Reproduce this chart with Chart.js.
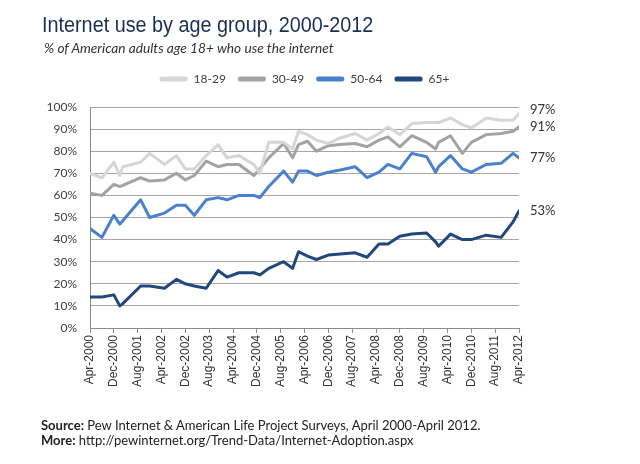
<!DOCTYPE html>
<html>
<head>
<meta charset="utf-8">
<title>Internet use by age group, 2000-2012</title>
<script src="https://cdn.jsdelivr.net/npm/chart.js@4.4.1/dist/chart.umd.min.js"></script>
<style>
  html, body { margin: 0; padding: 0; background: #fff; }
  #wrap { position: relative; width: 640px; height: 464px; overflow: hidden; }
  #chart { position: absolute; left: 0; top: 0; }
  .title {
    position: absolute; left: 42px; top: 14px;
    font: 22px/22px "Liberation Sans", Arial, sans-serif;
    color: #1b2f55; white-space: nowrap;
    transform: scaleX(0.9); transform-origin: 0 0;
  }
  .subtitle {
    position: absolute; left: 44px; top: 41px;
    font: italic 13.7px/13px Lato, sans-serif;
    color: #333; white-space: nowrap;
  }
  .source {
    position: absolute; left: 41px; top: 418px;
    font: 13px/15px Lato, sans-serif;
    color: #222; white-space: nowrap;
  }
</style>
</head>
<body>
<div id="wrap">
  <canvas id="chart" width="640" height="464"></canvas>
  <div class="title">Internet use by age group, 2000-2012</div>
  <div class="subtitle">% of American adults age 18+ who use the internet</div>
  <div class="source">
    <b>Source:</b> Pew Internet &amp; American Life Project Surveys, April 2000-April 2012.<br>
    <b>More:</b> http://pewinternet.org/Trend-Data/Internet-Adoption.aspx
  </div>
</div>
<script>
// survey dates (year-month)
const surveyDates = [
  '2000-04', '2000-08', '2000-12', '2001-02', '2001-03', '2001-09', '2001-12',
  '2002-05', '2002-09', '2002-12', '2003-03', '2003-07', '2003-11', '2004-02',
  '2004-06', '2004-11', '2005-01', '2005-04', '2005-09', '2005-12', '2006-02',
  '2006-05', '2006-08', '2006-12', '2007-04', '2007-09', '2008-01', '2008-05',
  '2008-08', '2008-12', '2009-04', '2009-09', '2009-12', '2010-01', '2010-05',
  '2010-09', '2010-12', '2011-05', '2011-10', '2012-02', '2012-04'
];

const ageGroups = ['18-29', '30-49', '50-64', '65+'];

const age18to29 = [70, 68, 75, 69, 73, 75, 79, 74, 78, 72, 72, 78, 83, 77, 78, 74, 70, 84, 84, 81, 89,
  87.5, 85, 83.5, 86, 88, 85, 88, 91, 87.5, 92.5, 93, 93, 93, 95, 92, 90.5, 95, 94, 94, 97];
const age30to49 = [61, 60, 65, 64, 64.5, 68, 66.5, 67, 70, 67, 69, 75.5, 73, 74, 74, 69, 72, 77, 83.5, 77, 83,
  84.5, 80, 82.5, 83, 83.5, 82, 85, 86.5, 82, 87, 84, 81, 84, 87, 79, 84, 87.5, 88, 89, 91];
const age50to64 = [45, 41, 51, 47, 48.5, 58, 50, 52, 55.5, 55.5, 51, 58, 59, 58, 60, 60, 59, 64, 71, 66, 71,
  71, 69, 70.5, 71.5, 73, 68, 70.5, 74, 72, 79, 77.5, 70.5, 73, 78, 72, 70.5, 74, 74.5, 79, 77];
const age65plus = [14, 14, 15, 10, 11, 19, 19, 18, 22, 20, 19, 18, 26, 23, 25, 25, 24, 27, 30, 27, 34.5,
  32.5, 31, 33, 33.5, 34, 32, 38, 38, 41.5, 42.5, 43, 39, 37, 42.5, 40, 40, 42, 41, 48, 53];

// x axis tick labels, one every 8 months from Apr-2000
const tickLabels = [
  'Apr-2000', 'Dec-2000', 'Aug-2001', 'Apr-2002', 'Dec-2002', 'Aug-2003', 'Apr-2004',
  'Dec-2004', 'Aug-2005', 'Apr-2006', 'Dec-2006', 'Aug-2007', 'Apr-2008', 'Dec-2008',
  'Aug-2009', 'Apr-2010', 'Dec-2010', 'Aug-2011', 'Apr-2012'
];

const seriesColors = ['#d6d6d6', '#a3a3a3', '#4a80cc', '#22477c'];

// months since Apr-2000
function monthIndex(d) {
  const [y, m] = d.split('-').map(Number);
  return (y - 2000) * 12 + (m - 4);
}

function toPoints(values) {
  return values.map((v, i) => ({ x: monthIndex(surveyDates[i]), y: v }));
}

const allSeries = [age18to29, age30to49, age50to64, age65plus];

const datasets = allSeries.map((vals, i) => ({
  label: ageGroups[i],
  data: toPoints(vals),
  borderColor: seriesColors[i],
  backgroundColor: seriesColors[i],
  borderWidth: 3,
  pointRadius: 0,
  tension: 0,
  fill: false,
  borderJoinStyle: 'round',
  borderCapStyle: 'round'
}));

// end-of-line value labels on the right side
const endLabels = {
  id: 'endLabels',
  afterDatasetsDraw(chart) {
    const { ctx, chartArea, scales } = chart;
    const items = chart.data.datasets.map(ds => {
      const last = ds.data[ds.data.length - 1].y;
      return { text: Math.round(last) + '%', y: scales.y.getPixelForValue(last) };
    }).sort((a, b) => a.y - b.y);
    // push apart labels that would overlap
    for (let i = items.length - 2; i >= 0; i--) {
      if (items[i + 1].y - items[i].y < 17) items[i].y = items[i + 1].y - 17;
    }
    ctx.save();
    ctx.font = '13px Lato, sans-serif';
    ctx.fillStyle = '#333';
    ctx.textBaseline = 'middle';
    ctx.textAlign = 'left';
    items.forEach(it => ctx.fillText(it.text, chartArea.right + 11, it.y));
    ctx.restore();
  }
};

// extra room under the legend
const legendGap = {
  id: 'legendGap',
  beforeInit(chart) {
    const fit = chart.legend.fit;
    chart.legend.fit = function () {
      fit.bind(chart.legend)();
      this.height += 12;
    };
  }
};

Chart.defaults.font.family = 'Lato, sans-serif';

new Chart(document.getElementById('chart'), {
  type: 'line',
  data: { datasets },
  options: {
    responsive: false,
    animation: false,
    layout: { padding: { top: 61, right: 121, left: 0, bottom: 0 } },
    plugins: {
      legend: {
        position: 'top',
        fullSize: false,
        labels: {
          boxWidth: 28,
          boxHeight: 5,
          padding: 12,
          color: '#404040',
          font: { size: 12 },
          useBorderRadius: true,
          borderRadius: 2,
          generateLabels(chart) {
            const items = Chart.defaults.plugins.legend.labels.generateLabels(chart);
            items.forEach(it => { it.lineWidth = 0; });
            return items;
          }
        }
      },
      tooltip: { enabled: false }
    },
    scales: {
      x: {
        type: 'linear',
        min: 0,
        max: 144,
        afterFit(scale) { scale.height = 136; },
        grid: { drawOnChartArea: false, drawTicks: true, tickLength: 5, color: '#8c8c8c' },
        border: { display: true, color: '#8c8c8c' },
        ticks: {
          stepSize: 8,
          autoSkip: false,
          maxRotation: 90,
          minRotation: 90,
          padding: 2,
          color: '#333',
          font: { family: '"Liberation Sans", Arial, sans-serif', size: 12 },
          callback: v => tickLabels[v / 8]
        }
      },
      y: {
        min: 0,
        max: 100,
        afterFit(scale) { scale.width = 90; },
        grid: { color: '#a6a6a6', drawTicks: false },
        border: { display: true, color: '#8c8c8c' },
        ticks: {
          stepSize: 10,
          padding: 13,
          color: '#404040',
          font: { size: 12 },
          callback: v => v + '%'
        }
      }
    }
  },
  plugins: [endLabels, legendGap]
});
</script>
</body>
</html>
